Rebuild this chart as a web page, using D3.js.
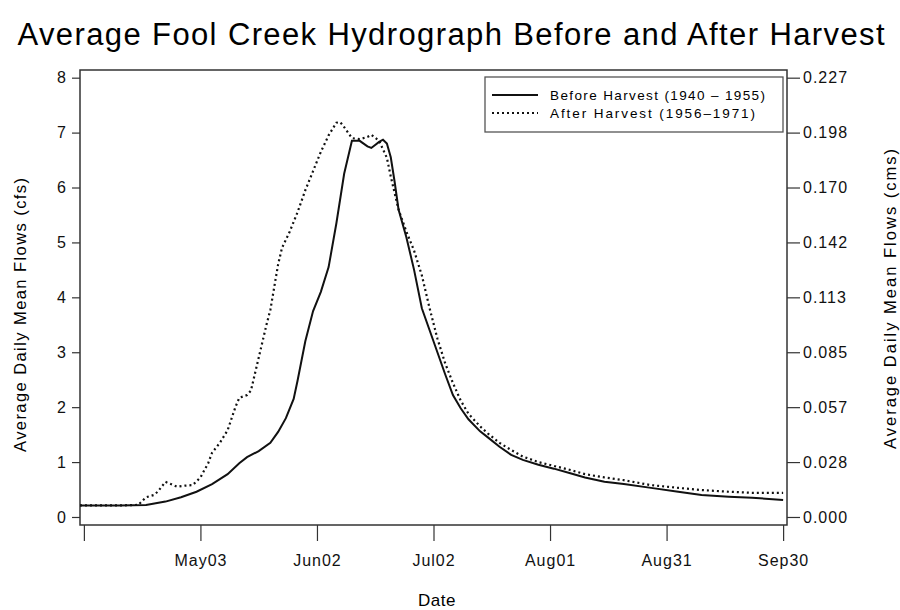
<!DOCTYPE html>
<html>
<head>
<meta charset="utf-8">
<script src="https://cdn.jsdelivr.net/npm/d3@7"></script>
<style>
  body { margin: 0; background: #fff; }
  svg { font-family: "Liberation Sans", Arial, sans-serif; }
</style>
</head>
<body>
<div id="chart"></div>
<script>
// Average daily mean flow (cfs)
var beforeDates = ["04-02","04-12","04-19","04-24","04-28","05-02","05-06","05-10","05-13","05-15",
  "05-18","05-21","05-23","05-25","05-27","05-28","05-30","06-01","06-03","06-05",
  "06-07","06-09","06-11","06-13","06-15","06-16","06-18","06-19","06-20","06-21",
  "06-22","06-23","06-25","06-27","06-29","07-01","07-03","07-05","07-07","07-09",
  "07-11","07-14","07-16","07-19","07-22","07-25","07-29","08-02","08-06","08-10",
  "08-15","08-20","08-27","09-03","09-09","09-16","09-22","09-30"];
var beforeFlow = [0.21,0.21,0.22,0.28,0.36,0.46,0.60,0.78,0.98,1.09,
  1.20,1.35,1.55,1.80,2.15,2.48,3.20,3.75,4.10,4.55,
  5.35,6.25,6.85,6.85,6.75,6.72,6.83,6.87,6.80,6.55,
  6.10,5.60,5.10,4.50,3.80,3.40,3.00,2.60,2.22,1.98,
  1.78,1.56,1.45,1.28,1.13,1.04,0.95,0.88,0.80,0.72,
  0.64,0.60,0.53,0.46,0.40,0.37,0.35,0.31];

var afterDates = ["04-02","04-12","04-17","04-19","04-21","04-22","04-24","04-26","04-27","04-29",
  "05-01","05-03","05-05","05-06","05-08","05-10","05-12","05-13","05-15","05-16",
  "05-18","05-20","05-21","05-23","05-24","05-26","05-28","05-30","06-01","06-03",
  "06-05","06-07","06-08","06-09","06-11","06-13","06-15","06-16","06-18","06-20",
  "06-21","06-23","06-25","06-27","06-29","07-01","07-03","07-05","07-07","07-09",
  "07-11","07-14","07-16","07-19","07-22","07-25","07-29","08-02","08-06","08-10",
  "08-15","08-20","08-27","09-03","09-09","09-16","09-22","09-30"];
var afterFlow = [0.21,0.21,0.22,0.36,0.40,0.46,0.64,0.58,0.55,0.57,
  0.58,0.72,0.98,1.17,1.35,1.58,2.00,2.17,2.22,2.30,
  2.90,3.50,3.77,4.60,4.90,5.20,5.55,5.95,6.30,6.65,
  6.95,7.18,7.19,7.10,6.90,6.88,6.92,6.96,6.85,6.54,
  6.20,5.60,5.20,4.85,4.40,3.80,3.25,2.80,2.44,2.12,
  1.88,1.65,1.52,1.35,1.22,1.10,1.00,0.93,0.86,0.78,
  0.72,0.67,0.58,0.53,0.49,0.46,0.44,0.44];

var xTickDates = ["04-03","05-03","06-02","07-02","08-01","08-31","09-30"];
var xTickLabels = ["","May03","Jun02","Jul02","Aug01","Aug31","Sep30"];
var leftTicks = [0,1,2,3,4,5,6,7,8];
var rightTickLabels = ["0.000","0.028","0.057","0.085","0.113","0.142","0.170","0.198","0.227"];
var seriesNames = ["Before Harvest (1940 \u2013 1955)", "After Harvest (1956\u20131971)"];

var width = 900, height = 610;
var frame = {left: 80, right: 787, top: 70, bottom: 525};

var parse = d3.timeParse("%m-%d");

var svg = d3.select("#chart").append("svg")
  .attr("width", width)
  .attr("height", height);

var x = d3.scaleTime()
  .domain([parse("04-02"), parse("10-01")])
  .range([frame.left, frame.right]);

var y = d3.scaleLinear()
  .domain([-0.146, 8.14])
  .range([frame.bottom, frame.top]);

// minor ticks on the left every 0.2 cfs, right every 0.125 cfs
var leftMinor = d3.range(0, 8.01, 0.2).map(v => +v.toFixed(2));
var rightMinor = d3.range(0, 8.01, 0.125);

var axisColor = "#333";
var labelFont = 16;

// left axis
var gL = svg.append("g").attr("transform", `translate(${frame.left},0)`);
gL.call(d3.axisLeft(y).tickValues(leftMinor).tickSize(4).tickFormat(""));
gL.call(d3.axisLeft(y).tickValues(leftTicks).tickSize(8).tickPadding(5).tickFormat(d3.format("d")));
gL.selectAll(".domain").remove();

// right axis (same scale, labelled in cms)
var gR = svg.append("g").attr("transform", `translate(${frame.right},0)`);
gR.call(d3.axisRight(y).tickValues(rightMinor).tickSize(5).tickFormat(""));
gR.call(d3.axisRight(y).tickValues(leftTicks).tickSize(13).tickPadding(3).tickFormat((d, i) => rightTickLabels[i]));
gR.selectAll(".domain").remove();

// bottom axis
var gB = svg.append("g").attr("transform", `translate(0,${frame.bottom})`);
gB.call(d3.axisBottom(x).tickValues(xTickDates.map(parse)).tickSize(16).tickPadding(14)
  .tickFormat((d, i) => xTickLabels[i]));
gB.selectAll(".domain").remove();

svg.selectAll(".tick line").attr("stroke", axisColor).attr("stroke-width", 1.2);
svg.selectAll(".tick text")
  .attr("font-size", labelFont)
  .attr("font-family", "Liberation Sans, Arial, sans-serif")
  .attr("fill", "#111")
  .style("letter-spacing", "1px");

// plot frame
svg.append("rect")
  .attr("x", frame.left).attr("y", frame.top)
  .attr("width", frame.right - frame.left)
  .attr("height", frame.bottom - frame.top)
  .attr("fill", "none")
  .attr("stroke", axisColor)
  .attr("stroke-width", 1.5);

// lines
var line = d3.line()
  .x(d => x(d.date))
  .y(d => y(d.flow));

var beforeData = beforeDates.map((d, i) => ({date: parse(d), flow: beforeFlow[i]}));
var afterData = afterDates.map((d, i) => ({date: parse(d), flow: afterFlow[i]}));

svg.append("path")
  .datum(afterData)
  .attr("d", line)
  .attr("fill", "none")
  .attr("stroke", "#111")
  .attr("stroke-width", 2.2)
  .attr("stroke-dasharray", "2,3");

svg.append("path")
  .datum(beforeData)
  .attr("d", line)
  .attr("fill", "none")
  .attr("stroke", "#111")
  .attr("stroke-width", 2);

// legend
var legend = svg.append("g");
legend.append("rect")
  .attr("x", 485).attr("y", 77)
  .attr("width", 298).attr("height", 55)
  .attr("fill", "#fff")
  .attr("stroke", "#555")
  .attr("stroke-width", 1.3);

var legendRows = legend.selectAll("g")
  .data(seriesNames)
  .join("g")
    .attr("transform", (d, i) => `translate(0,${95 + i * 18})`);

legendRows.append("line")
  .attr("x1", 492).attr("x2", 538)
  .attr("stroke", "#111")
  .attr("stroke-width", (d, i) => i ? 2.2 : 2)
  .attr("stroke-dasharray", (d, i) => i ? "2,3" : null);

legendRows.append("text")
  .attr("x", 550)
  .attr("dy", "0.35em")
  .attr("font-size", 13.5)
  .attr("textLength", (d, i) => i ? 205 : 215)
  .attr("lengthAdjust", "spacing")
  .text(d => d);

// title and axis labels
svg.append("text")
  .attr("x", 451).attr("y", 45)
  .attr("text-anchor", "middle")
  .attr("font-size", 31)
  .attr("textLength", 867)
  .attr("lengthAdjust", "spacing")
  .text("Average Fool Creek Hydrograph Before and After Harvest");

svg.append("text")
  .attr("transform", "translate(26,315) rotate(-90)")
  .attr("text-anchor", "middle")
  .attr("font-size", 16.5)
  .attr("textLength", 274)
  .attr("lengthAdjust", "spacing")
  .text("Average Daily Mean Flows (cfs)");

svg.append("text")
  .attr("transform", "translate(896,299) rotate(-90)")
  .attr("text-anchor", "middle")
  .attr("font-size", 16.5)
  .attr("textLength", 300)
  .attr("lengthAdjust", "spacing")
  .text("Average Daily Mean Flows (cms)");

svg.append("text")
  .attr("x", 437).attr("y", 606)
  .attr("text-anchor", "middle")
  .attr("font-size", 17)
  .style("letter-spacing", "0.5px")
  .text("Date");
</script>
</body>
</html>
